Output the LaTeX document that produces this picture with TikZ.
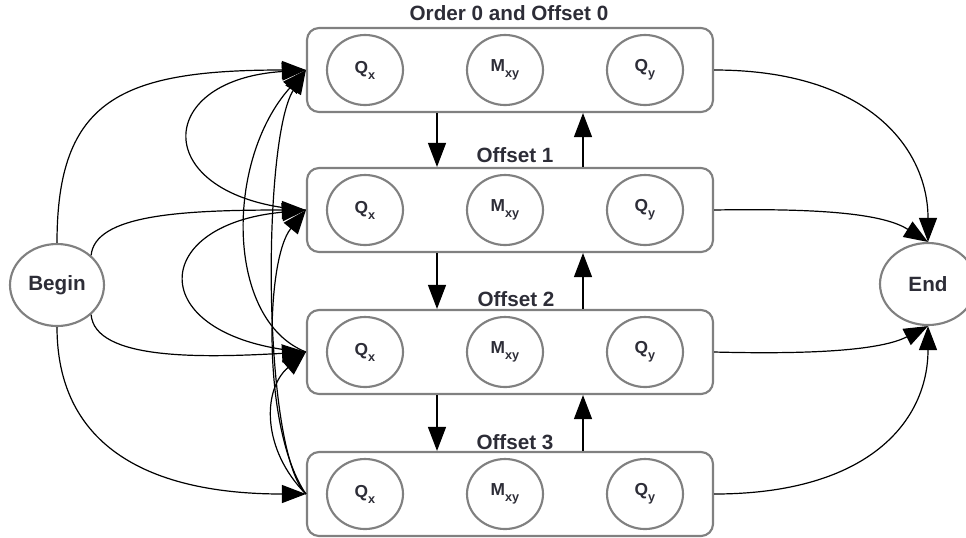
\documentclass[tikz,border=0pt]{standalone}
\usepackage{fontspec}
\setmainfont{Liberation Sans}
\usetikzlibrary{arrows.meta,shapes.geometric}
\definecolor{boxgray}{RGB}{128,128,128}
\definecolor{txt}{RGB}{45,45,55}
\newcommand\subx[1]{\raisebox{-4.5pt}{\fontsize{9.5}{10}\selectfont #1}}
\begin{document}
\begin{tikzpicture}[x=0.75pt,y=-0.75pt,
  rowbox/.style={draw=boxgray, line width=1.6pt, rounded corners=9pt, minimum width=304.5pt, minimum height=63pt, inner sep=0pt},
  state/.style={ellipse, draw=boxgray, line width=1.6pt, minimum width=57pt, minimum height=52.5pt, inner sep=0pt, text=txt, font=\bfseries\fontsize{13}{14}\selectfont},
  term/.style={ellipse, draw=boxgray, line width=1.6pt, inner sep=0pt, text=txt, font=\bfseries\fontsize{15.5}{16}\selectfont},
  ttl/.style={inner sep=0pt, text=txt, font=\bfseries\fontsize{15.5}{16}\selectfont},
  edge/.style={draw=black, line width=0.9pt, -{Triangle[length=18pt,width=13.5pt]}}
]
\useasboundingbox (0,0) rectangle (966,537);
\foreach \i/\y in {0/70,1/210,2/352,3/494} {
  \node[rowbox] (r\i) at (510,\y) {};
  \node[state] (qx\i) at (365,\y) {Q\subx{x}};
  \node[state] (m\i) at (505,\y) {M\subx{xy}};
  \node[state] (qy\i) at (645,\y) {Q\subx{y}};
}
\node[ttl] (t0) at (509,13) {Order 0 and Offset 0};
\node[ttl] (t1) at (515,155) {Offset 1};
\node[ttl] (t2) at (516,299) {Offset 2};
\node[ttl] (t3) at (515,442) {Offset 3};
\node[term, minimum width=70.5pt, minimum height=61.5pt] (b) at (57,285) {Begin};
\node[term, minimum width=72pt, minimum height=61.5pt] (e) at (928,284) {End};
% Begin edges
\draw[edge] (b.north) .. controls (57,100) and (120,70) .. (r0.west);
\draw[edge] (b.41) .. controls (95,215) and (180,210) .. (r1.west);
\draw[edge] (b.-41) .. controls (95,360) and (200,358) .. (r2.west);
\draw[edge] (b.south) .. controls (57,440) and (140,494) .. (r3.west);
% back edges on the left
\draw[edge] (r1.west) .. controls (150,200) and (150,80) .. (r0.west);
\draw[edge] (r2.west) .. controls (145,340) and (145,225) .. (r1.west);
\draw[edge] (r2.west) .. controls (225,320) and (225,160) .. (r0.west);
\draw[edge] (r3.west) .. controls (262,450) and (262,140) .. (r0.west);
\draw[edge] (r3.west) .. controls (262,430) and (265,260) .. (r1.west);
\draw[edge] (r3.west) .. controls (262,450) and (262,390) .. (r2.west);
% vertical arrows
\coordinate (dn) at (437,0);
\coordinate (up) at (583,0);
\draw[edge] (r0.south -| dn) -- (r1.north -| dn);
\draw[edge] (r1.south -| dn) -- (r2.north -| dn);
\draw[edge] (r2.south -| dn) -- (r3.north -| dn);
\draw[edge] (r1.north -| up) -- (r0.south -| up);
\draw[edge] (r2.north -| up) -- (r1.south -| up);
\draw[edge] (r3.north -| up) -- (r2.south -| up);
% End edges
\draw[edge] (r0.east) .. controls (870,70) and (928,150) .. (e.north);
\draw[edge] (r1.east) .. controls (830,208) and (885,215) .. (e.north);
\draw[edge] (r2.east) .. controls (830,355) and (885,348) .. (e.south);
\draw[edge] (r3.east) .. controls (870,494) and (928,420) .. (e.south);
\end{tikzpicture}
\end{document}
